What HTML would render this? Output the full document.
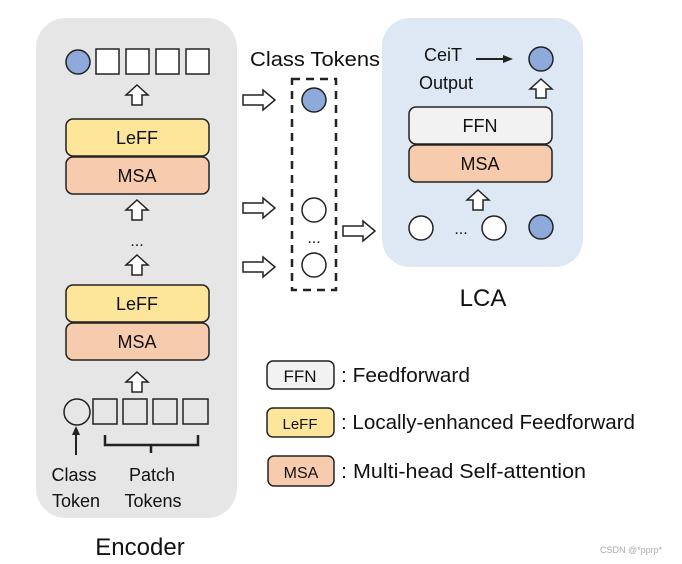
<!DOCTYPE html>
<html><head><meta charset="utf-8"><style>
html,body{margin:0;padding:0;background:#fff;}
svg{display:block;font-family:"Liberation Sans",sans-serif;}
</style></head><body>
<svg width="682" height="564" viewBox="0 0 682 564" xmlns="http://www.w3.org/2000/svg">
<g stroke="#222" stroke-width="1.5">
<rect x="36" y="18" width="201" height="500" rx="30" fill="#e6e6e6" stroke="none"/>
<rect x="382" y="18" width="201" height="249" rx="28" fill="#dde8f4" stroke="none"/>
<!-- top row -->
<circle cx="78" cy="62" r="12" fill="#8eaadb"/>
<rect x="96" y="49" width="23" height="25" fill="#fff"/>
<rect x="126" y="49" width="23" height="25" fill="#fff"/>
<rect x="156" y="49" width="23" height="25" fill="#fff"/>
<rect x="186" y="49" width="23" height="25" fill="#fff"/>
<!-- up arrows -->
<g fill="#fff">
<polygon points="137,85 148,95 142,95 142,105 132,105 132,95 126,95"/>
<polygon points="137,200 148,210 142,210 142,220 132,220 132,210 126,210"/>
<polygon points="137,255 148,265 142,265 142,275 132,275 132,265 126,265"/>
<polygon points="137,372 148,382 142,382 142,392 132,392 132,382 126,382"/>
<polygon points="541,79 552,89 546,89 546,98 536,98 536,89 530,89"/>
<polygon points="478,190 489,200 483,200 483,210 473,210 473,200 467,200"/>
</g>
<rect x="66" y="119" width="143" height="37" rx="7" fill="#fde699"/>
<rect x="66" y="157" width="143" height="37" rx="7" fill="#f7cbad"/>
<rect x="66" y="285" width="143" height="37" rx="7" fill="#fde699"/>
<rect x="66" y="323" width="143" height="37" rx="7" fill="#f7cbad"/>
<!-- bottom row -->
<circle cx="77" cy="412" r="13" fill="#e6e6e6"/>
<rect x="93" y="399" width="24" height="25" fill="#e6e6e6"/>
<rect x="123" y="399" width="24" height="25" fill="#e6e6e6"/>
<rect x="153" y="399" width="24" height="25" fill="#e6e6e6"/>
<rect x="183" y="399" width="25" height="25" fill="#e6e6e6"/>
<line x1="76" y1="455" x2="76" y2="432" stroke-width="2"/>
<polygon points="76,426 72,435 80,435" fill="#222" stroke="none"/>
<path d="M105,435 V445 H198 V435 M151,445 V453" fill="none" stroke-width="2.5"/>
<!-- right arrows -->
<g fill="#fff">
<polygon points="243,95 263,95 263,90 275,100 263,110 263,105 243,105"/>
<polygon points="243,203 263,203 263,198 275,208 263,218 263,213 243,213"/>
<polygon points="243,262 263,262 263,257 275,267 263,277 263,272 243,272"/>
<polygon points="343,226 363,226 363,221 375,231 363,241 363,236 343,236"/>
</g>
<rect x="292" y="79" width="44" height="211" fill="none" stroke-width="2.5" stroke-dasharray="8,6"/>
<circle cx="314" cy="100" r="12" fill="#8eaadb"/>
<circle cx="314" cy="210" r="12" fill="#fff"/>
<circle cx="314" cy="265" r="12" fill="#fff"/>
<!-- LCA -->
<line x1="476" y1="59" x2="505" y2="59" stroke-width="2"/>
<polygon points="513,59 503,55 503,63" fill="#222" stroke="none"/>
<circle cx="541" cy="59" r="12" fill="#8eaadb"/>
<rect x="409" y="107" width="143" height="37" rx="7" fill="#f2f2f2"/>
<rect x="409" y="145" width="143" height="37" rx="7" fill="#f7cbad"/>
<circle cx="421" cy="228" r="12" fill="#fff"/>
<circle cx="494" cy="228" r="12" fill="#fff"/>
<circle cx="541" cy="227" r="12" fill="#8eaadb"/>
<!-- legend -->
<rect x="267" y="361" width="67" height="28" rx="6" fill="#f2f2f2"/>
<rect x="267" y="408" width="67" height="29" rx="6" fill="#fde699"/>
<rect x="268" y="456" width="66" height="30" rx="6" fill="#f7cbad"/>
</g>
<g fill="#111" font-size="18" text-anchor="middle">
<text x="137" y="144">LeFF</text>
<text x="137" y="182">MSA</text>
<text x="137" y="310">LeFF</text>
<text x="137" y="348">MSA</text>
<text x="137" y="246" font-size="16">...</text>
<text x="314" y="243" font-size="16">...</text>
<text x="461" y="234" font-size="16">...</text>
<text x="480" y="132">FFN</text>
<text x="480" y="170">MSA</text>
<text x="74" y="481">Class</text>
<text x="76" y="507">Token</text>
<text x="152" y="481">Patch</text>
<text x="153" y="507">Tokens</text>
<text x="140" y="555" font-size="24">Encoder</text>
<text x="483" y="306" font-size="24">LCA</text>
<text x="315" y="66" font-size="20" textLength="130" lengthAdjust="spacingAndGlyphs">Class Tokens</text>
<text x="443" y="61" font-size="18">CeiT</text>
<text x="446" y="89" font-size="18">Output</text>
<text x="300" y="382" font-size="17">FFN</text>
<text x="300" y="429" font-size="15">LeFF</text>
<text x="301" y="478" font-size="16">MSA</text>
</g>
<g fill="#111" font-size="20">
<text x="341" y="382" textLength="129" lengthAdjust="spacingAndGlyphs">: Feedforward</text>
<text x="341" y="429" textLength="294" lengthAdjust="spacingAndGlyphs">: Locally-enhanced Feedforward</text>
<text x="341" y="478" textLength="245" lengthAdjust="spacingAndGlyphs">: Multi-head Self-attention</text>
</g>
<text x="600" y="553" font-size="9" fill="#aaa">CSDN @*pprp*</text>
</svg>
</body></html>
